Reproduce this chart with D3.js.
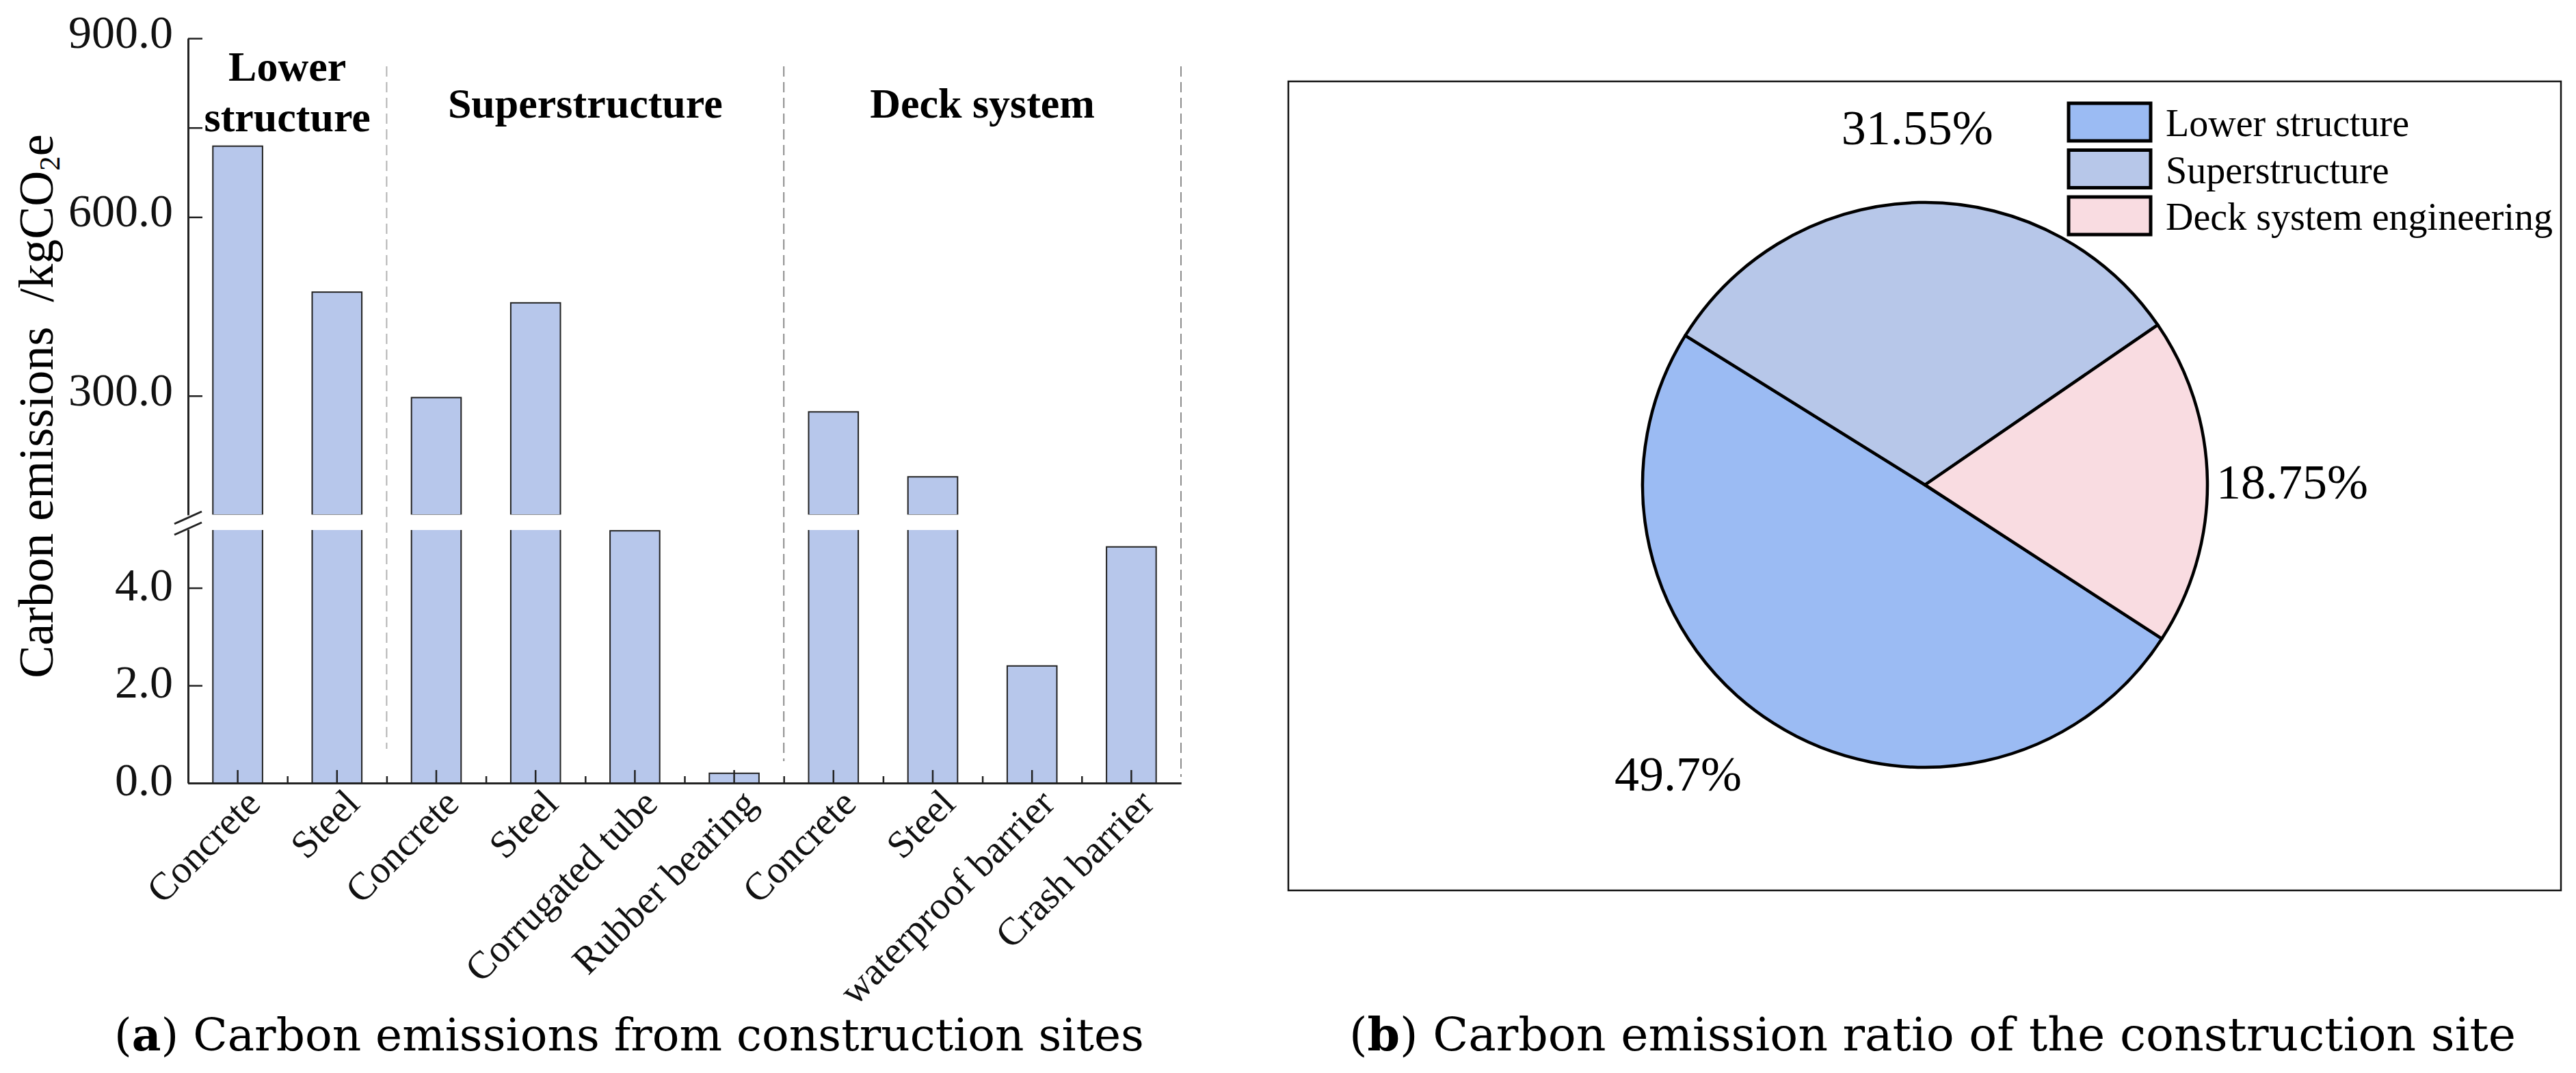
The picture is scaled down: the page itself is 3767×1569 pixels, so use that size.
<!DOCTYPE html>
<html>
<head>
<meta charset="utf-8">
<script src="https://cdn.jsdelivr.net/npm/d3@7"></script>
<style>
  html, body { margin: 0; padding: 0; background: #fff; }
  svg { display: block; }
</style>
</head>
<body>
<div id="chart"></div>
<script>
// ---- data ----
const categories = ["Concrete", "Steel", "Concrete", "Steel", "Corrugated tube",
  "Rubber bearing", "Concrete", "Steel", "waterproof barrier", "Crash barrier"];
const emissions = [719, 474, 297, 456, 5.17, 0.2, 273, 164, 2.4, 4.84];
const groupNames = ["Lower|structure", "Superstructure", "Deck system"];
const groupSizes = [2, 4, 4];
const upperTicks = [300, 600, 750, 900];
const upperLabelled = [300, 600, 900];
const lowerTicks = [0, 2, 4];

const shareNames = ["Lower structure", "Superstructure", "Deck system engineering"];
const shareValues = [49.7, 31.55, 18.75];
const shareLabels = ["49.7%", "31.55%", "18.75%"];

// ---- config ----
const W = 3767, H = 1569;
const serif = "'Liberation Serif', 'Times New Roman', serif";
const captionFont = "'DejaVu Serif', serif";
const barFill = "#b7c7eb";
const sliceColors = ["#9bbbf3", "#b7c7e9", "#f9dce1"];
const axisX = 275, axisRight = 1727, axisBottom = 1145;
const lowMax = 5.2, upMin = 100, upMax = 900;
const gapTop = 753, gapBottom = 774;

const svg = d3.select("#chart").append("svg")
  .attr("width", W).attr("height", H)
  .attr("viewBox", [0, 0, W, H])
  .style("font-family", serif);

// ---- (a) bar chart with broken axis ----
const x = d3.scaleBand()
  .domain(d3.range(categories.length))
  .range([axisX, axisRight])
  .paddingInner(0.5).paddingOuter(0.25);
const xEdge = d3.scaleLinear().domain([0, categories.length]).range([axisX, axisRight]);

const yLow = d3.scaleLinear().domain([0, lowMax]).range([axisBottom, gapBottom]);
const yUp = d3.scaleLinear().domain([upMin, upMax]).range([gapTop, 56]);

const bars = svg.append("g");
bars.selectAll("rect.low")
  .data(emissions)
  .join("rect")
  .attr("class", "low")
  .attr("x", (d, i) => x(i))
  .attr("width", x.bandwidth())
  .attr("y", d => yLow(Math.min(d, lowMax)))
  .attr("height", d => axisBottom - yLow(Math.min(d, lowMax)))
  .attr("fill", barFill)
  .attr("stroke", "#222")
  .attr("stroke-width", 2);

bars.selectAll("rect.up")
  .data(emissions.map((v, i) => ({ v, i })).filter(d => d.v > upMin))
  .join("rect")
  .attr("class", "up")
  .attr("x", d => x(d.i))
  .attr("width", x.bandwidth())
  .attr("y", d => yUp(d.v))
  .attr("height", d => gapTop - yUp(d.v))
  .attr("fill", barFill)
  .attr("stroke", "#222")
  .attr("stroke-width", 2);

// white break band
svg.append("rect")
  .attr("x", axisX + 2).attr("y", gapTop - 0.5)
  .attr("width", axisRight - axisX + 4)
  .attr("height", gapBottom - gapTop + 1.5)
  .attr("fill", "#fff");

// group separators
const bounds = d3.cumsum(groupSizes);
svg.selectAll("line.sep")
  .data(bounds)
  .join("line")
  .attr("class", "sep")
  .attr("x1", d => xEdge(d)).attr("x2", d => xEdge(d))
  .attr("y1", 97).attr("y2", (d, i) => [1095, 1113, 1136][i])
  .attr("stroke", (d, i) => i === 0 ? "#b4b4b4" : "#8c8c8c")
  .attr("stroke-width", 2)
  .attr("stroke-dasharray", "15,8");

// group titles
const starts = [0, ...bounds.slice(0, -1)];
groupNames.forEach((name, gi) => {
  const cx = (xEdge(starts[gi]) + xEdge(bounds[gi])) / 2;
  const lines = name.split("|");
  const ys = lines.length === 2 ? [118, 192] : [172];
  lines.forEach((ln, li) => {
    svg.append("text")
      .attr("x", cx).attr("y", ys[li])
      .attr("text-anchor", "middle")
      .style("font-size", "62px")
      .style("font-weight", "bold")
      .text(ln);
  });
});

// axes
function styleAxis(g) {
  g.select(".domain").attr("stroke", "#222").attr("stroke-width", 3);
  g.selectAll(".tick line").attr("stroke", "#222").attr("stroke-width", 2.5);
  g.selectAll(".tick text")
    .style("font-family", serif)
    .style("font-size", "68px")
    .attr("fill", "#111");
}

const gUp = svg.append("g")
  .attr("transform", `translate(${axisX},0)`)
  .call(d3.axisLeft(yUp).tickValues(upperTicks).tickSizeInner(-21).tickSizeOuter(0)
    .tickPadding(22)
    .tickFormat(d => upperLabelled.includes(d) ? d3.format(".1f")(d) : ""));
styleAxis(gUp);
gUp.selectAll(".tick text").attr("dy", "0.2em");

const gLow = svg.append("g")
  .attr("transform", `translate(${axisX},0)`)
  .call(d3.axisLeft(yLow).tickValues(lowerTicks).tickSizeInner(-21).tickSizeOuter(0)
    .tickPadding(22).tickFormat(d3.format(".1f")));
styleAxis(gLow);
gLow.selectAll(".tick text").attr("dy", "0.26em");

// break marks on the y axis
[gapTop + 4, gapBottom - 1].forEach(cy => {
  svg.append("line")
    .attr("x1", axisX - 20).attr("y1", cy + 9)
    .attr("x2", axisX + 20).attr("y2", cy - 9)
    .attr("stroke", "#222").attr("stroke-width", 3);
});

// x axis: minor ticks at category edges, major at centres with labels
const gMinor = svg.append("g")
  .attr("transform", `translate(0,${axisBottom})`)
  .call(d3.axisBottom(xEdge).tickValues(d3.range(1, categories.length))
    .tickSizeInner(-10).tickSizeOuter(0).tickFormat(""));
styleAxis(gMinor);

const gX = svg.append("g")
  .attr("transform", `translate(0,${axisBottom})`)
  .call(d3.axisBottom(x).tickSizeInner(-19).tickSizeOuter(0)
    .tickFormat(i => categories[i]));
styleAxis(gX);
gX.selectAll(".tick text")
  .style("font-size", "57px")
  .attr("text-anchor", "end")
  .attr("x", 0).attr("y", 0).attr("dy", 0)
  .attr("transform", "translate(36,33) rotate(-45)");

// y title
const yTitle = svg.append("text")
  .attr("transform", "translate(77,594) rotate(-90)")
  .attr("text-anchor", "middle")
  .style("font-size", "72px")
  .attr("xml:space", "preserve");
yTitle.append("tspan").text("Carbon emissions \u00a0/kgCO");
yTitle.append("tspan").attr("dy", 10).style("font-size", "43px").text("2");
yTitle.append("tspan").attr("dy", -10).text("e");

// caption (a)
const capA = svg.append("text")
  .attr("x", 920).attr("y", 1536)
  .attr("text-anchor", "middle")
  .style("font-family", captionFont)
  .style("font-size", "66px");
capA.append("tspan").text("(");
capA.append("tspan").style("font-weight", "bold").text("a");
capA.append("tspan").text(") Carbon emissions from construction sites");

// ---- (b) pie chart ----
svg.append("rect")
  .attr("x", 1884).attr("y", 119)
  .attr("width", 3745 - 1884).attr("height", 1302 - 119)
  .attr("fill", "none").attr("stroke", "#111").attr("stroke-width", 2.5);

const pcx = 2815, pcy = 709, R = 413;
const start = 123 * Math.PI / 180;
const pie = d3.pie().sort(null).startAngle(start).endAngle(start + 2 * Math.PI);
const arcs = pie(shareValues);
const arc = d3.arc().innerRadius(0).outerRadius(R);

const gPie = svg.append("g").attr("transform", `translate(${pcx},${pcy})`);
gPie.selectAll("path")
  .data(arcs)
  .join("path")
  .attr("d", arc)
  .attr("fill", (d, i) => sliceColors[i])
  .attr("stroke", "#000")
  .attr("stroke-width", 4.5)
  .attr("stroke-linejoin", "round");

// percentage labels outside the slices
gPie.selectAll("text")
  .data(arcs)
  .join("text")
  .each(function (d, i) {
    const a = (d.startAngle + d.endAngle) / 2;
    const s = Math.sin(a), c = Math.cos(a);
    const r = R + 12 + 72 * Math.abs(c) + 30 * Math.max(0, -s) * Math.abs(c);
    d3.select(this)
      .attr("x", r * s)
      .attr("y", -r * c)
      .attr("text-anchor", s > 0.35 ? "start" : s < -0.35 ? "end" : "middle")
      .attr("dy", c > 0.9 ? "0em" : c < -0.9 ? "0.7em" : "0.35em")
      .style("font-size", "72px")
      .text(shareLabels[i]);
  });

// legend
const legend = svg.append("g").attr("transform", "translate(3025,151)");
const items = legend.selectAll("g")
  .data(shareNames)
  .join("g")
  .attr("transform", (d, i) => `translate(0,${i * 68.5})`);
items.append("rect")
  .attr("width", 120).attr("height", 55)
  .attr("fill", (d, i) => sliceColors[i])
  .attr("stroke", "#000").attr("stroke-width", 5);
items.append("text")
  .attr("x", 142).attr("y", 48)
  .style("font-size", "56px")
  .text(d => d);

// caption (b)
const capB = svg.append("text")
  .attr("x", 2826).attr("y", 1536)
  .attr("text-anchor", "middle")
  .style("font-family", captionFont)
  .style("font-size", "68px");
capB.append("tspan").text("(");
capB.append("tspan").style("font-weight", "bold").text("b");
capB.append("tspan").text(") Carbon emission ratio of the construction site");
</script>
</body>
</html>
